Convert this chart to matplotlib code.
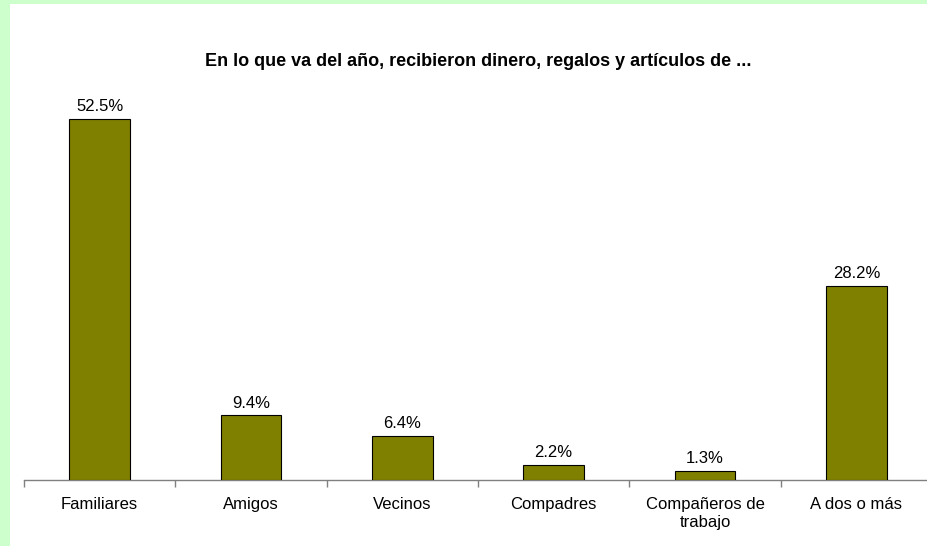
import matplotlib
matplotlib.use("Agg")
import matplotlib.pyplot as plt
import numpy as np
from matplotlib.patches import Rectangle

categories = ["Familiares", "Amigos", "Vecinos", "Compadres", "Compañeros de\ntrabajo", "A dos o más"]
values = [52.5, 9.4, 6.4, 2.2, 1.3, 28.2]
title = "En lo que va del año, recibieron dinero, regalos y artículos de ..."

plt.rcParams['font.family'] = ['Liberation Sans', 'DejaVu Sans']

W, H = 928, 546
fig = plt.figure(figsize=(W/100, H/100), dpi=100)
fig.patch.set_facecolor("#CCFFCC")
# white inner area
fig.patches.append(Rectangle((10/W, 0), 1 - 10/W, 1 - 4/H, transform=fig.transFigure,
                             facecolor="white", edgecolor="none", zorder=-10))

left, right, bottom, top = 24, 932, 480, 100
ax = fig.add_axes([left/W, 1 - bottom/H, (right-left)/W, (bottom-top)/H])
ax.set_facecolor("none")
ax.set_zorder(5)

x = np.arange(len(categories))
bars = ax.bar(x, values, width=0.40, color="#808000", edgecolor="black", linewidth=0.8, zorder=3)
for xi, v in zip(x, values):
    ax.annotate(f"{v:.1f}%", (xi, v), xytext=(0, 3.5), textcoords="offset points",
                ha="center", va="bottom", fontsize=12)

ax.set_xlim(-0.5, len(categories) - 0.5)
ax.set_ylim(0, 380/6.876)
for s in ["top", "right", "left"]:
    ax.spines[s].set_visible(False)
ax.spines["bottom"].set_color("#808080")
ax.spines["bottom"].set_linewidth(1)
ax.set_yticks([])
ax.set_xticks(x)
ax.set_xticklabels(categories, fontsize=12)
ax.tick_params(axis="x", which="major", length=0, pad=12.5)
ax.set_xticks(np.arange(-0.5, len(categories)), minor=True)
ax.tick_params(axis="x", which="minor", length=5, color="#808080", width=1, direction="out")

fig.text(478/W, 1 - 62/H, title, ha="center", va="center", fontsize=13, fontweight="bold", zorder=6)

fig.savefig("out.png", dpi=100, facecolor=fig.get_facecolor())
